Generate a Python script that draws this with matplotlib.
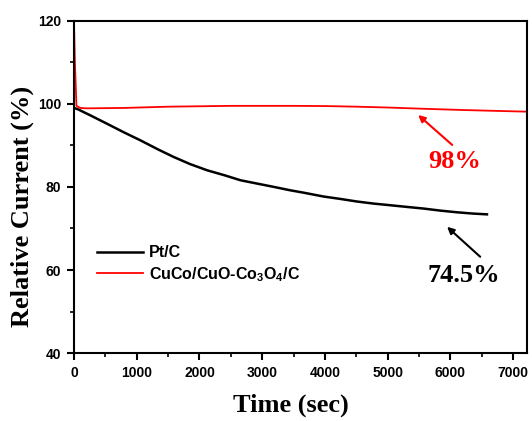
import matplotlib
matplotlib.use("Agg")
import matplotlib.pyplot as plt
from matplotlib.ticker import MultipleLocator

# Chronoamperometry: relative current vs time
pt_time = [0, 60, 250, 527, 800, 1060, 1330, 1590, 1850, 2123, 2400, 2655,
           2920, 3187, 3443, 3666, 3974, 4250, 4506, 4770, 5038, 5300,
           5570, 5840, 6103, 6350, 6582]
pt_current = [99.0, 98.7, 97.3, 95.2, 93.1, 91.2, 89.1, 87.2, 85.5, 84.0,
              82.8, 81.6, 80.8, 80.0, 79.2, 78.6, 77.7, 77.1, 76.5, 76.0,
              75.6, 75.2, 74.8, 74.3, 73.9, 73.6, 73.4]

cu_time = [0, 15, 40, 100, 200, 800, 1500, 2500, 3500, 4000, 4506, 5000,
           5570, 6200, 6700, 7220]
cu_current = [120.0, 110.0, 99.5, 99.0, 98.9, 99.0, 99.3, 99.5, 99.5, 99.45,
              99.3, 99.1, 98.8, 98.5, 98.3, 98.1]

series_labels = ["Pt/C", "CuCo/CuO-Co$_3$O$_4$/C"]
retention_labels = ["98%", "74.5%"]

x_ticks = [0, 1000, 2000, 3000, 4000, 5000, 6000, 7000]
y_ticks = [40, 60, 80, 100, 120]

plt.rcParams["mathtext.fontset"] = "custom"
plt.rcParams["mathtext.default"] = "bf"
plt.rcParams["mathtext.bf"] = "Liberation Sans:bold"

fig = plt.figure(figsize=(5.32, 4.21), dpi=100)
ax = fig.add_axes([0.139, 0.161, 0.8516, 0.790])

ax.plot(pt_time, pt_current, color="black", lw=1.8, label=series_labels[0])
ax.plot(cu_time, cu_current, color="#ff0000", lw=1.3, label=series_labels[1])

ax.set_xlim(0, 7220)
ax.set_ylim(40, 120)
ax.set_xticks(x_ticks)
ax.set_yticks(y_ticks)
ax.xaxis.set_minor_locator(MultipleLocator(500))
ax.yaxis.set_minor_locator(MultipleLocator(10))

for s in ax.spines.values():
    s.set_linewidth(1.5)
ax.tick_params(which="major", direction="out", length=5, width=1.5, pad=4)
ax.tick_params(which="minor", direction="out", length=3, width=1.2)
for lab in ax.get_xticklabels() + ax.get_yticklabels():
    lab.set_fontfamily("Liberation Sans")
    lab.set_fontweight("bold")
    lab.set_fontsize(10)

ax.set_xlabel("Time (sec)", family="Liberation Serif", weight="bold", fontsize=19)
ax.set_ylabel("Relative Current (%)", family="Liberation Serif", weight="bold",
              fontsize=19)
ax.xaxis.set_label_coords(0.478, -0.122)
ax.yaxis.set_label_coords(-0.088, 0.44)

leg = ax.legend(loc="upper left", bbox_to_anchor=(0.05, 0.325), frameon=False,
                prop={"family": "Liberation Sans", "weight": "bold", "size": 11.5},
                handlelength=2.9, handletextpad=0.35, labelspacing=0.3,
                borderpad=0, borderaxespad=0)

# Retention annotations
ax.annotate("", xy=(5486, 97.3), xytext=(6028, 90.1),
            arrowprops=dict(arrowstyle="-|>", color="#ff0000", lw=1.5,
                            mutation_scale=10, shrinkA=0, shrinkB=0))
ax.text(6060, 86.0, retention_labels[0], color="#ff0000", family="Liberation Serif",
        weight="bold", fontsize=19, ha="center", va="center")

ax.annotate("", xy=(5947, 70.4), xytext=(6474, 63.2),
            arrowprops=dict(arrowstyle="-|>", color="black", lw=1.5,
                            mutation_scale=10, shrinkA=0, shrinkB=0))
ax.text(6219, 58.8, retention_labels[1], color="black", family="Liberation Serif",
        weight="bold", fontsize=19, ha="center", va="center")

fig.savefig("out.png", dpi=100)
